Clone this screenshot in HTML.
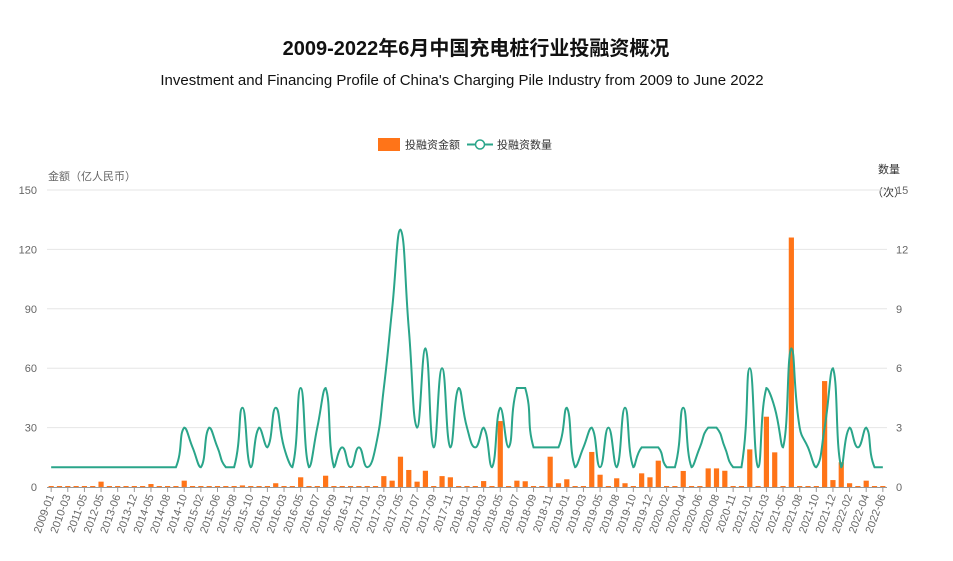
<!DOCTYPE html>
<html><head><meta charset="utf-8"><style>
body{margin:0;background:#fff;}
svg{display:block;font-family:"Liberation Sans","Noto Sans CJK SC",sans-serif;}
</style></head><body>
<svg id="chart" width="953" height="561" viewBox="0 0 953 561">
<text x="476" y="55" text-anchor="middle" font-size="20" font-weight="bold" fill="#111">2009-2022年6月中国充电桩行业投融资概况</text>
<text x="462" y="85" text-anchor="middle" font-size="15" fill="#111">Investment and Financing Profile of China's Charging Pile Industry from 2009 to June 2022</text>
<g>
<g><rect x="378" y="138" width="22" height="13" fill="#ff7418"/><text x="405" y="148.5" font-size="11" fill="#333">投融资金额</text></g>
<g><line x1="467" y1="144.5" x2="493" y2="144.5" stroke="#2aa58a" stroke-width="2"/><circle cx="480" cy="144.5" r="4.5" fill="#fff" stroke="#2aa58a" stroke-width="1.5"/><text x="497" y="148.5" font-size="11" fill="#333">投融资数量</text></g>
</g>
<text x="48" y="180" font-size="11" fill="#666">金额（亿人民币）</text>
<text x="878" y="173" font-size="11" fill="#333">数量</text>
<text x="872" y="196" font-size="11" fill="#333">（次）</text>
<g id="grid"></g><g id="bars"></g><g id="line"></g><g id="xaxis"></g>
</svg>
<script>
const categories=["2009-01","2009-08","2010-03","2010-09","2011-05","2011-11","2012-05","2012-11","2013-06","2013-09","2013-12","2014-03","2014-05","2014-07","2014-08","2014-09","2014-10","2014-12","2015-02","2015-04","2015-06","2015-07","2015-08","2015-09","2015-10","2015-12","2016-01","2016-02","2016-03","2016-04","2016-05","2016-06","2016-07","2016-08","2016-09","2016-10","2016-11","2016-12","2017-01","2017-02","2017-03","2017-04","2017-05","2017-06","2017-07","2017-08","2017-09","2017-10","2017-11","2017-12","2018-01","2018-02","2018-03","2018-04","2018-05","2018-06","2018-07","2018-08","2018-09","2018-10","2018-11","2018-12","2019-01","2019-02","2019-03","2019-04","2019-05","2019-07","2019-08","2019-09","2019-10","2019-11","2019-12","2020-01","2020-02","2020-03","2020-04","2020-05","2020-06","2020-07","2020-08","2020-09","2020-11","2020-12","2021-01","2021-02","2021-03","2021-04","2021-05","2021-07","2021-08","2021-09","2021-10","2021-11","2021-12","2022-01","2022-02","2022-03","2022-04","2022-05","2022-06"];
const amounts=[0.5,0.5,0.5,0.5,0.5,0.5,2.7,0.5,0.5,0.5,0.5,0.5,1.5,0.5,0.5,0.5,3.2,0.5,0.5,0.5,0.5,0.5,0.5,0.8,0.5,0.5,0.5,1.9,0.5,0.5,4.9,0.5,0.5,5.7,0.5,0.5,0.5,0.5,0.5,0.5,5.5,3.2,15.3,8.6,2.7,8.2,0.5,5.5,4.9,0.5,0.5,0.5,3.0,0.5,33.3,0.5,3.2,2.9,0.5,0.5,15.3,1.9,3.9,0.5,0.5,17.7,6.2,0.5,4.4,1.9,0.5,6.9,4.9,13.3,0.5,0.5,8.1,0.5,0.5,9.4,9.4,8.2,0.5,0.5,19,0.5,35.5,17.5,0.5,126,0.5,0.5,0.5,53.5,3.5,12.5,1.9,0.5,3.2,0.5,0.5];
const counts=[1,1,1,1,1,1,1,1,1,1,1,1,1,1,1,1,3,2,1,3,2,1,1,4,1,3,2,4,2,1,5,1,3,5,1,2,1,2,1,2,5,9,13,8,3,7,2,6,2,5,3,2,3,1,4,2,5,5,2,2,2,2,4,1,2,3,1,3,1,4,1,2,2,2,1,1,4,1,2,3,3,2,1,1,6,1,5,4,2,7,3,2,1,3,6,1,3,2,3,1,1];
const leftTicks=[0,30,60,90,120,150];
const rightTicks=[0,3,6,9,12,15];
const X0=47,X1=887,Y0=487,Y1=190;
const NS="http://www.w3.org/2000/svg";
const band=(X1-X0)/categories.length;
const xPos=i=>X0+(i+0.5)*band;
const yL=v=>Y0-(v/150)*(Y0-Y1);
const yR=v=>Y0-(v/15)*(Y0-Y1);
function mk(tag,attrs,parent){const e=document.createElementNS(NS,tag);for(const k in attrs)e.setAttribute(k,attrs[k]);parent.appendChild(e);return e;}
const grid=document.getElementById('grid');
leftTicks.forEach((t,k)=>{
  const y=yL(t);
  if(t>0){const g=mk('line',{x1:X0,x2:X1,y1:y,y2:y,stroke:'#e6e6e6','stroke-width':1},grid);
  
  }
  const lt=mk('text',{x:37,y:y+4,'text-anchor':'end','font-size':11,fill:'#666'},grid);lt.textContent=t;
  
  
  const rt=mk('text',{x:896,y:yR(rightTicks[k])+4,'font-size':11,fill:'#666'},grid);rt.textContent=rightTicks[k];
  
  
});
const bars=document.getElementById('bars');
amounts.forEach((v,i)=>{
  const y=yL(v);
  const r=mk('rect',{x:xPos(i)-2.6,y:y,width:5.2,height:Y0-y,fill:'#ff7418'},bars);
  
  
});
const pts=counts.map((c,i)=>[xPos(i),yR(c)]);
let d='M'+pts[0][0]+','+pts[0][1];
const sm=0.5;
function cps(i){const p=pts[i],a=pts[Math.max(0,i-1)],b=pts[Math.min(pts.length-1,i+1)];
  const vx=b[0]-a[0],vy=b[1]-a[1];
  const d0=Math.hypot(p[0]-a[0],p[1]-a[1]),d1=Math.hypot(b[0]-p[0],b[1]-p[1]);const s=d0+d1||1;
  let c1=[p[0]-vx*sm*d0/s,p[1]-vy*sm*d0/s],c2=[p[0]+vx*sm*d1/s,p[1]+vy*sm*d1/s];
  c1[1]=Math.min(Math.max(c1[1],Math.min(a[1],p[1])),Math.max(a[1],p[1]));
  c2[1]=Math.min(Math.max(c2[1],Math.min(b[1],p[1])),Math.max(b[1],p[1]));
  return [c1,c2];}
const C=pts.map((p,i)=>cps(i));
for(let i=1;i<pts.length;i++){const a=C[i-1][1],b=C[i][0];d+=' C'+a[0]+','+a[1]+' '+b[0]+','+b[1]+' '+pts[i][0]+','+pts[i][1];}
const ln=mk('path',{d:d,fill:'none',stroke:'#2aa58a','stroke-width':2},document.getElementById('line'));


const xa=document.getElementById('xaxis');
const axl=mk('line',{x1:X0,x2:X1,y1:Y0+0.5,y2:Y0+0.5,stroke:'#999','stroke-width':1},xa);


categories.forEach((c,i)=>{
  if(i%2!==0)return;
  const x=xPos(i);
  const tk=mk('line',{x1:x,x2:x,y1:Y0,y2:Y0+5,stroke:'#999'},xa);
  
  
  const t=mk('text',{x:x+3,y:Y0+9,'text-anchor':'end','font-size':11,fill:'#666',transform:'rotate(-70 '+(x+3)+' '+(Y0+9)+')'},xa);
  t.textContent=c;
  
  
});
</script>
</body></html>
